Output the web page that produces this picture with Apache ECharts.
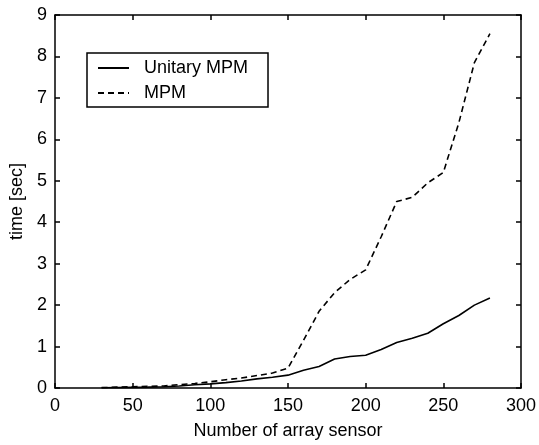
<!DOCTYPE html>
<html>
<head>
<meta charset="utf-8">
<script src="https://cdn.jsdelivr.net/npm/echarts@6/dist/echarts.min.js"></script>
<style>
html,body{margin:0;padding:0;background:#fff;}
#chart{width:539px;height:445px;}
</style>
</head>
<body>
<div id="chart"></div>
<script>
const sensors = [30,40,50,60,70,80,90,100,110,120,130,140,150,160,170,180,190,200,210,220,230,240,250,260,270,280];
const unitaryMPM = [0.005,0.01,0.015,0.02,0.03,0.05,0.08,0.1,0.13,0.17,0.22,0.26,0.31,0.43,0.52,0.7,0.76,0.79,0.93,1.1,1.2,1.32,1.55,1.75,2.0,2.17];
const mpm = [0.01,0.02,0.03,0.04,0.05,0.08,0.11,0.15,0.2,0.24,0.3,0.36,0.48,1.15,1.85,2.3,2.62,2.85,3.65,4.5,4.6,4.95,5.2,6.4,7.85,8.55];
const seriesNames = ['Unitary MPM','MPM'];

const font = 'Liberation Sans, Arial, sans-serif';
const axisLine = {show:true, onZero:false, lineStyle:{color:'#000', width:1.5}};
const tickIn = {show:true, inside:true, length:5, lineStyle:{color:'#000', width:1.5}};

const chart = echarts.init(document.getElementById('chart'), null, {renderer:'canvas'});
chart.setOption({
  backgroundColor:'#fff',
  animation:false,
  grid:{left:55, right:15, top:15, bottom:52, containLabel:false},
  legend:{
    left:87, top:53, orient:'vertical',
    data:seriesNames,
    itemWidth:31, itemHeight:14, itemGap:7,
    padding:[6,20,5,10],
    borderColor:'#000', borderWidth:1.5, backgroundColor:'#fff', borderRadius:0,
    itemStyle:{opacity:0},
    textStyle:{fontFamily:font, fontSize:18, color:'#000', padding:[0,0,0,10], lineHeight:18}
  },
  xAxis:[{
    type:'value', min:0, max:300, interval:50, position:'bottom',
    name:'Number of array sensor', nameLocation:'middle', nameGap:34,
    nameTextStyle:{fontFamily:font, fontSize:18, color:'#000'},
    axisLine:axisLine, axisTick:tickIn,
    axisLabel:{fontFamily:font, fontSize:18, color:'#000', margin:9},
    splitLine:{show:false}
  },{
    type:'value', min:0, max:300, interval:50, position:'top',
    axisLine:axisLine, axisTick:tickIn, axisLabel:{show:false}, splitLine:{show:false}
  }],
  yAxis:[{
    type:'value', min:0, max:9, interval:1, position:'left',
    name:'time [sec]', nameLocation:'middle', nameGap:26,
    nameTextStyle:{fontFamily:font, fontSize:18, color:'#000'},
    axisLine:axisLine, axisTick:tickIn,
    axisLabel:{fontFamily:font, fontSize:18, color:'#000', margin:8},
    splitLine:{show:false}
  },{
    type:'value', min:0, max:9, interval:1, position:'right',
    axisLine:axisLine, axisTick:tickIn, axisLabel:{show:false}, splitLine:{show:false}
  }],
  series:[{
    name:seriesNames[0], type:'line', symbol:'none', showSymbol:false,
    data:sensors.map((x,i)=>[x, unitaryMPM[i]]),
    lineStyle:{color:'#000', width:1.6, type:'solid'},
    itemStyle:{color:'#000'}
  },{
    name:seriesNames[1], type:'line', symbol:'none', showSymbol:false,
    data:sensors.map((x,i)=>[x, mpm[i]]),
    lineStyle:{color:'#000', width:1.6, type:[6,4]},
    itemStyle:{color:'#000'}
  }]
});
</script>
</body>
</html>
